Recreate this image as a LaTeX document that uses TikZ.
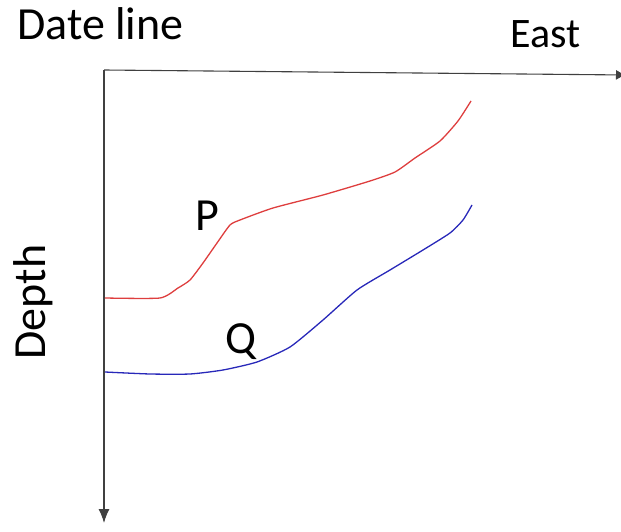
\documentclass[tikz,border=0pt]{standalone}
\usepackage{fontspec}
\setmainfont{Carlito}
\usetikzlibrary{arrows.meta}
\definecolor{pcol}{RGB}{222,62,62}
\definecolor{qcol}{RGB}{40,40,185}
\begin{document}
\begin{tikzpicture}[x=1pt,y=-1pt,
  lbl/.style={inner sep=0pt,font=\fontsize{46}{50}\selectfont},
  axis/.style={draw=black!75,line width=1.1pt},
  curve/.style={line width=1.3pt,line join=round}]
\useasboundingbox (0,0) rectangle (621,532);
\coordinate (o) at (104,70);
\coordinate (e) at (626,75);
\coordinate (d) at (104,523);
\draw[axis,-{Latex[length=14pt,width=11pt]}] (o) -- (d);
\draw[axis,-{Latex[length=10pt,width=10pt]}] (o) -- (e);
\node[lbl,anchor=base west] (dl) at (17,40) {Date line};
\node[lbl,anchor=base west,font=\fontsize{42}{46}\selectfont] (east) at (510,48) {East};
\node[lbl,rotate=90,anchor=base] (depth) at (45,302) {Depth};
\node[lbl,anchor=base] (p) at (207,230) {P};
\node[lbl,anchor=base] (q) at (241,353) {Q};
\draw[curve,pcol] plot[smooth,tension=0.35] coordinates {(105,298) (160,298) (178,288) (190,280) (203,263) (217,243) (230,225) (240,220) (273,208) (323,195) (370,181) (395,172) (415,158) (440,141) (458,121) (471,101)};
\draw[curve,qcol] plot[smooth,tension=0.35] coordinates {(105,372) (150,374) (190,374) (223,370) (257,362) (290,347) (323,320) (357,290) (390,270) (423,250) (450,233) (463,220) (472,205)};
\end{tikzpicture}
\end{document}
